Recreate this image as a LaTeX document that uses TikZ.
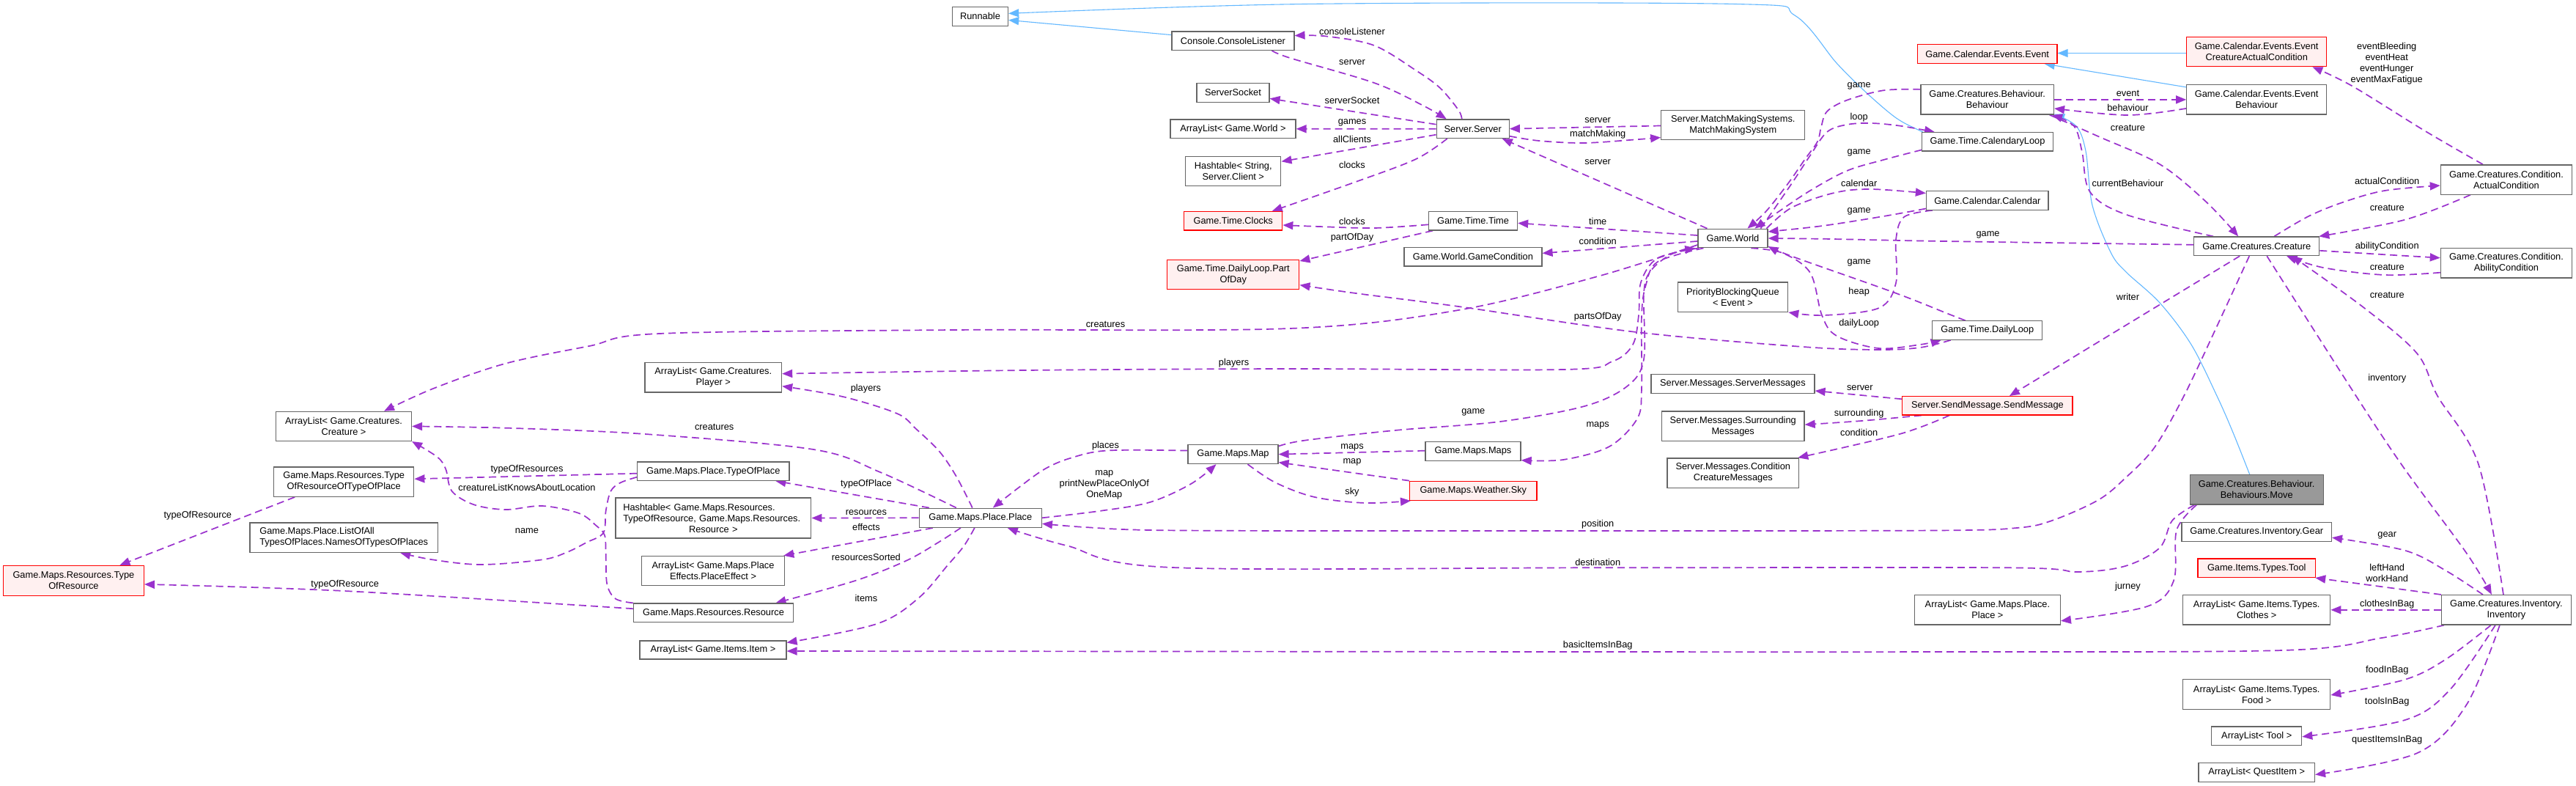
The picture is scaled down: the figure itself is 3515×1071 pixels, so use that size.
\documentclass[tikz,border=0pt]{standalone}
\usepackage{fontspec}
\setmainfont{Liberation Sans}
\usetikzlibrary{arrows.meta}
\definecolor{purp}{HTML}{9A32CD}
\definecolor{blu}{HTML}{63B8FF}
\definecolor{gfour}{HTML}{666666}
\definecolor{redfill}{HTML}{FFF0F0}
\definecolor{mainfill}{HTML}{999999}
\newcommand\dxf{\fontsize{12.8}{15}\selectfont}
\pgfdeclarelayer{paper}
\pgfdeclarelayer{edges}
\pgfsetlayers{paper,edges,main}
\tikzset{
 box/.style={draw=gfour, line width=1.3pt, fill=white, font=\dxf, align=center, inner sep=0pt},
 redbox/.style={box, draw=red, fill=redfill},
 mainbox/.style={box, fill=mainfill},
 use/.style={draw=purp, line width=1.7pt, dash pattern=on 10pt off 6pt, -{Triangle[length=14pt,width=11pt]}},
 inh/.style={draw=blu, line width=1.1pt, -{Triangle[length=14pt,width=11pt]}},
 lab/.style={font=\dxf, inner sep=0pt, align=center},
 sm/.style={smooth, tension=0.55}
}
\begin{document}
\begin{tikzpicture}[x=1pt,y=-1pt]
\begin{pgfonlayer}{paper}
\fill[white] (0,0) rectangle (3515,1071);
\end{pgfonlayer}
\useasboundingbox (0,0) rectangle (3515,1071);

% ---------- nodes ----------
\node[box, minimum width=76pt, minimum height=25.5pt] (runnable) at (1337.5,22.4) {Runnable};
\node[box, minimum width=167pt, minimum height=25.2pt] (console) at (1682.4,55.6) {Console.ConsoleListener};
\node[box, minimum width=99pt, minimum height=25.5pt] (ssock) at (1682.4,126.4) {ServerSocket};
\node[box, minimum width=171pt, minimum height=25.8pt] (alworld) at (1682.5,175.8) {ArrayList< Game.World >};
\node[box, minimum width=130pt, minimum height=40.2pt] (htclient) at (1682.8,233.3) {Hashtable< String,\\Server.Client >};
\node[redbox, minimum width=134pt, minimum height=25.4pt] (clocks) at (1682.7,301.3) {Game.Time.Clocks};
\node[redbox, minimum width=180pt, minimum height=40pt] (partofday) at (1682.8,374.7) {Game.Time.DailyLoop.Part\\OfDay};
\node[box, minimum width=186.5pt, minimum height=40.3pt] (alplayer) at (973.3,514.7) {ArrayList< Game.Creatures.\\Player >};
\node[box, minimum width=99pt, minimum height=25.5pt] (server) at (2009.7,175.7) {Server.Server};
\node[box, minimum width=196pt, minimum height=40pt] (mms) at (2364.8,170.5) {Server.MatchMakingSystems.\\MatchMakingSystem};
\node[box, minimum width=121pt, minimum height=25.4pt] (time) at (2010,301.3) {Game.Time.Time};
\node[box, minimum width=188pt, minimum height=25.2pt] (gamecond) at (2009.9,350.4) {Game.World.GameCondition};
\node[box, minimum width=95pt, minimum height=25.5pt] (world) at (2364.4,325) {Game.World};
\node[box, minimum width=150.4pt, minimum height=40.3pt] (pbq) at (2364.4,405.2) {PriorityBlockingQueue\\< Event >};
\node[box, minimum width=223pt, minimum height=25.5pt] (srvmsg) at (2364.4,523.5) {Server.Messages.ServerMessages};
\node[box, minimum width=130pt, minimum height=26pt] (maps) at (2010,615.7) {Game.Maps.Maps};
\node[redbox, minimum width=173.4pt, minimum height=26pt] (sky) at (2010.3,669.3) {Game.Maps.Weather.Sky};
\node[box, minimum width=194.6pt, minimum height=40.4pt] (surmsg) at (2364.7,581.2) {Server.Messages.Surrounding\\Messages};
\node[box, minimum width=179.6pt, minimum height=40.4pt] (ccmsg) at (2364.8,645.1) {Server.Messages.Condition\\CreatureMessages};
\node[redbox, minimum width=190.4pt, minimum height=25.8pt] (event) at (2711.7,73.5) {Game.Calendar.Events.Event};
\node[box, minimum width=181.4pt, minimum height=40.3pt] (behav) at (2711.7,135.9) {Game.Creatures.Behaviour.\\Behaviour};
\node[box, minimum width=178.5pt, minimum height=25.2pt] (calloop) at (2712,193.4) {Game.Time.CalendaryLoop};
\node[box, minimum width=166.6pt, minimum height=25.5pt] (calendar) at (2711.8,273.5) {Game.Calendar.Calendar};
\node[box, minimum width=150.2pt, minimum height=25.5pt] (dailyloop) at (2711.7,450.5) {Game.Time.DailyLoop};
\node[redbox, minimum width=232.2pt, minimum height=25.2pt] (sendmsg) at (2711.9,553.3) {Server.SendMessage.SendMessage};
\node[box, minimum width=198.8pt, minimum height=40.4pt] (alplace) at (2711.9,831.8) {ArrayList< Game.Maps.Place.\\Place >};
\node[redbox, minimum width=190.8pt, minimum height=40.3pt] (ecac) at (3079.2,70.5) {Game.Calendar.Events.Event\\CreatureActualCondition};
\node[box, minimum width=190.8pt, minimum height=40.3pt] (evbehav) at (3079.2,135.9) {Game.Calendar.Events.Event\\Behaviour};
\node[box, minimum width=170.8pt, minimum height=25.5pt] (creature) at (3079.2,335.8) {Game.Creatures.Creature};
\node[mainbox, minimum width=181.9pt, minimum height=40.3pt] (move) at (3079.2,667.9) {Game.Creatures.Behaviour.\\Behaviours.Move};
\node[box, minimum width=204.3pt, minimum height=25.9pt] (gear) at (3079.2,725.2) {Game.Creatures.Inventory.Gear};
\node[redbox, minimum width=160.7pt, minimum height=25.5pt] (tool) at (3079.2,774.7) {Game.Items.Types.Tool};
\node[box, minimum width=200.9pt, minimum height=40.4pt] (alclothes) at (3079.2,831.8) {ArrayList< Game.Items.Types.\\Clothes >};
\node[box, minimum width=200.9pt, minimum height=40.4pt] (alfood) at (3079.2,947) {ArrayList< Game.Items.Types.\\Food >};
\node[box, minimum width=122.8pt, minimum height=25.5pt] (altool) at (3079.2,1003.8) {ArrayList< Tool >};
\node[box, minimum width=158.4pt, minimum height=25.5pt] (alquest) at (3079.2,1053.5) {ArrayList< QuestItem >};
\node[box, minimum width=179pt, minimum height=40.3pt] (actcond) at (3419.9,245) {Game.Creatures.Condition.\\ActualCondition};
\node[box, minimum width=179pt, minimum height=40.3pt] (abcond) at (3419.9,358.7) {Game.Creatures.Condition.\\AbilityCondition};
\node[box, minimum width=176.9pt, minimum height=40.4pt] (inventory) at (3419.9,831.8) {Game.Creatures.Inventory.\\Inventory};
\node[box, minimum width=167pt, minimum height=26.2pt] (place) at (1337.8,706.3) {Game.Maps.Place.Place};
\node[box, minimum width=122.9pt, minimum height=25.9pt] (map) at (1682.5,619.6) {Game.Maps.Map};
\node[box, minimum width=207.2pt, minimum height=25.3pt] (typeofplace) at (973.3,642.7) {Game.Maps.Place.TypeOfPlace};
\node[box, minimum width=266.9pt, minimum height=55pt, text width=246pt, align=left] (htres) at (973.3,706.5) {Hashtable< Game.Maps.Resources.\\TypeOfResource, Game.Maps.Resources.\\\makebox[\linewidth]{Resource >}};
\node[box, minimum width=195.2pt, minimum height=40.4pt] (aleffect) at (973,778.6) {ArrayList< Game.Maps.Place\\Effects.PlaceEffect >};
\node[box, minimum width=218.1pt, minimum height=25.8pt] (resource) at (973.5,835.9) {Game.Maps.Resources.Resource};
\node[box, minimum width=199.8pt, minimum height=25pt] (alitem) at (973,886.5) {ArrayList< Game.Items.Item >};
\node[box, minimum width=184.9pt, minimum height=40pt] (alcreature) at (469,581.4) {ArrayList< Game.Creatures.\\Creature >};
\node[box, minimum width=191.1pt, minimum height=40.3pt] (tortop) at (469.2,657.2) {Game.Maps.Resources.Type\\OfResourceOfTypeOfPlace};
\node[box, minimum width=256.5pt, minimum height=40.4pt, align=left] (names) at (469.2,733.1) {Game.Maps.Place.ListOfAll\\TypesOfPlaces.NamesOfTypesOfPlaces};
\node[redbox, minimum width=191.7pt, minimum height=40.8pt] (tor) at (100.4,791.9) {Game.Maps.Resources.Type\\OfResource};

% ---------- edge labels ----------
\node[lab] (l1) at (1845,42.7) {consoleListener};
\node[lab] (l2) at (1845,84.7) {server};
\node[lab] (l3) at (1845,136.7) {serverSocket};
\node[lab] (l4) at (1845,167.7) {games};
\node[lab] (l5) at (1845,190.4) {allClients};
\node[lab] (l6) at (1845,224.5) {clocks};
\node[lab] (l7) at (2180.2,164.6) {server};
\node[lab] (l8) at (2180.2,183.5) {matchMaking};
\node[lab] (l9) at (2180.2,220.7) {server};
\node[lab] (l10) at (1845,302.3) {clocks};
\node[lab] (l11) at (1845,323.7) {partOfDay};
\node[lab] (l12) at (2180.2,302.3) {time};
\node[lab] (l13) at (2180.2,328.5) {condition};
\node[lab] (l14) at (2180.2,432.5) {partsOfDay};
\node[lab] (l15) at (2536.7,117) {game};
\node[lab] (l16) at (2536.7,160.5) {loop};
\node[lab] (l17) at (2536.7,208.7) {game};
\node[lab] (l18) at (2536.7,250.3) {calendar};
\node[lab] (l19) at (2536.7,287.9) {game};
\node[lab] (l20) at (2536.7,358.8) {game};
\node[lab] (l21) at (2536.7,398.4) {heap};
\node[lab] (l22) at (2536.7,440.8) {dailyLoop};
\node[lab] (l23) at (2537.8,528.9) {server};
\node[lab] (l24) at (2010.3,562.8) {game};
\node[lab] (l25) at (2180.2,580) {maps};
\node[lab] (l26) at (1845,610.7) {maps};
\node[lab] (l27) at (1845,630.8) {map};
\node[lab] (l28) at (1845,670.8) {sky};
\node[lab] (l29) at (2536.7,564.5) {surrounding};
\node[lab] (l30) at (2536.7,590.4) {condition};
\node[lab] (l31) at (2180.2,715.6) {position};
\node[lab] (l32) at (2180.2,766.7) {destination};
\node[lab] (l33) at (2180.2,880.6) {basicItemsInBag};
\node[lab] (l34) at (3256.7,86.6) {eventBleeding\\eventHeat\\eventHunger\\eventMaxFatigue};
\node[lab] (l35) at (2903.4,127.4) {event};
\node[lab] (l36) at (2903.4,147.4) {behaviour};
\node[lab] (l37) at (2903.4,174.9) {creature};
\node[lab] (l38) at (2903.4,250.3) {currentBehaviour};
\node[lab] (l39) at (3257.2,246.6) {actualCondition};
\node[lab] (l40) at (3257.2,283.7) {creature};
\node[lab] (l41) at (2712.5,320.6) {game};
\node[lab] (l42) at (3257.2,336.4) {abilityCondition};
\node[lab] (l43) at (3257.2,364) {creature};
\node[lab] (l44) at (3257.2,402.9) {creature};
\node[lab] (l45) at (2903.4,404.6) {writer};
\node[lab] (l46) at (3257.2,516.5) {inventory};
\node[lab] (l47) at (2903.4,799.8) {jurney};
\node[lab] (l48) at (3257.2,730.8) {gear};
\node[lab] (l49) at (3257.2,781.2) {leftHand\\workHand};
\node[lab] (l50) at (3257.2,823.7) {clothesInBag};
\node[lab] (l51) at (3257.2,914) {foodInBag};
\node[lab] (l52) at (3257.2,956.8) {toolsInBag};
\node[lab] (l53) at (3257.2,1009) {questItemsInBag};
\node[lab] (l54) at (1508.5,442.5) {creatures};
\node[lab] (l55) at (1683.6,494.8) {players};
\node[lab] (l56) at (1181.4,530.3) {players};
\node[lab] (l57) at (974.7,582.8) {creatures};
\node[lab] (l58) at (1181.9,660.4) {typeOfPlace};
\node[lab] (l59) at (1181.9,698.7) {resources};
\node[lab] (l60) at (1181.9,719.4) {effects};
\node[lab] (l61) at (1181.9,759.5) {resourcesSorted};
\node[lab] (l62) at (1181.9,816.4) {items};
\node[lab] (l63) at (1508.5,608) {places};
\node[lab] (l64) at (1506.8,661.2) {map\\printNewPlaceOnlyOf\\OneMap};
\node[lab] (l65) at (269.8,703.6) {typeOfResource};
\node[lab] (l66) at (719,639.7) {typeOfResources};
\node[lab] (l67) at (719,664.6) {creatureListKnowsAboutLocation};
\node[lab] (l68) at (719,724) {name};
\node[lab] (l69) at (470.7,796.7) {typeOfResource};

% ---------- edges ----------
\begin{pgfonlayer}{edges}
% inheritance
\draw[inh] ([yshift=8pt]console.west) -- ([yshift=-5pt]runnable.east);
\draw[inh] plot[sm] coordinates {([xshift=2pt]calloop.north west) (2597,167) (2577,153) (2543,123) (2506,86) (2449,21) (2368,5.5) (1780,5.5) ([yshift=4pt]runnable.east)};
\draw[inh] ([yshift=-2pt]ecac.west) -- ([yshift=1pt]event.east);
\draw[inh] ([yshift=17pt]evbehav.west) -- ([xshift=78pt]event.south);
\draw[inh] plot[sm] coordinates {([xshift=-9.5pt]move.north) (3047,590) (3025,540) (2990,470) (2947,413) (2900,370) (2880,344) (2855,280) (2846,206) (2833,172) ([yshift=1pt]behav.south east)};
% usage
\draw[use] plot[sm] coordinates {([xshift=-15pt]server.north) (1990,150) (1965,120) (1932,96) (1875,62) (1810,49.5) ([yshift=7pt]console.east)};
\draw[use] plot[sm] coordinates {([xshift=53pt]console.south) (1760,79) (1875,113) (1940,143) ([xshift=-36pt]server.north)};
\draw[use] ([yshift=6pt]server.west) -- ([yshift=-8pt]ssock.east);
\draw[use] (server.west) -- (alworld.east);
\draw[use] ([yshift=-8pt]server.west) -- ([yshift=13pt]htclient.east);
\draw[use] plot[sm] coordinates {([xshift=-35pt]server.south) (1932,217) (1850,248) ([xshift=53pt]clocks.north)};
\draw[use] ([yshift=-1pt]mms.west) -- (server.east);
\draw[use] plot[sm] coordinates {([yshift=-10pt]server.east) (2100,192) (2161,195) (2230,190.5) ([yshift=-17pt]mms.west)};
\draw[use] ([xshift=-35pt]world.north) -- ([xshift=40pt]server.south);
\draw[use] plot[sm] coordinates {([yshift=-5pt]time.west) (1875,311) (1800,309) ([yshift=-5.7pt]clocks.east)};
\draw[use] ([xshift=-55pt]time.south) -- ([yshift=-2pt]partofday.north east);
\draw[use] ([yshift=4pt]world.west) -- ([yshift=-3pt]time.east);
\draw[use] ([yshift=-4pt]world.west) -- ([yshift=5pt]gamecond.east);
\draw[use] plot[sm] coordinates {([xshift=-50pt]dailyloop.south) (2620,474) (2563,477) (2460,473) (2233,453) (1990,418) (1850,400) ([yshift=-14pt]partofday.east)};
\draw[use] plot[sm] coordinates {([yshift=-9pt]world.west) (2180,377) (1990,423) (1760,448) (1300,450) (900,455) (804,472) (689,496) (591,530) ([xshift=55pt]alcreature.north)};
\draw[use] plot[sm] coordinates {([xshift=-46pt]world.south) (2262,352) (2239,385) (2236,430) (2228,470) (2200,493) (2133,504) (1760,503) (1400,505) ([yshift=5pt]alplayer.east)};
\draw[use] plot[sm] coordinates {([xshift=-11pt]place.north) (1305,650) (1282,616) (1250,585) (1224,564) (1150,541) ([yshift=-12pt]alplayer.east)};
\draw[use] plot[sm] coordinates {([xshift=-33pt]place.north) (1201,644) (1110,613) (880,592) (700,584) (alcreature.east)};
\draw[use] ([xshift=-70pt]place.north) -- ([xshift=85pt]typeofplace.south);
\draw[use] (place.west) -- (htres.east);
\draw[use] ([xshift=-65pt]place.south) -- ([xshift=-2pt]aleffect.north east);
\draw[use] plot[sm] coordinates {([xshift=-27pt]place.south) (1280,740) (1236,765) (1167,792) ([xshift=85pt]resource.north)};
\draw[use] plot[sm] coordinates {([xshift=-8pt]place.south) (1315,745) (1293,771) (1253,816) (1196,851) ([yshift=10pt]alitem.east)};
\draw[use] plot[sm] coordinates {([yshift=5pt]map.west) (1511,614.5) (1460,625) (1425,640) (1390,665) ([xshift=17pt]place.north)};
\draw[use] plot[sm] coordinates {(place.east) (1500,697) (1569,685) (1625,660) ([xshift=-23pt]map.south)};
\draw[use] plot[sm] coordinates {([xshift=-10pt]creature.south) (3025,445) (2980,540) (2940,610) (2900,652) (2863,682) (2800,710) (2752,720) (2640,723.5) (2180,724) (1780,724) (1569,723) (1480,719) ([yshift=-8pt]place.east)};
\draw[use] plot[sm] coordinates {([xshift=-85pt]move.south) (2964,710) (2947,747) (2900,772) (2835,780) (2740,774.3) (2180,774.3) (1600,774) (1455,744) ([xshift=37pt]place.south)};
\draw[use] plot[sm] coordinates {([xshift=-82pt]move.south) (2970,723) (2966,792) (2930,827) ([yshift=-15pt]alplace.east)};
\draw[use] ([yshift=1pt]maps.west) -- (map.east);
\draw[use] (sky.north west) -- ([yshift=-11pt]map.east);
\draw[use] plot[sm] coordinates {([xshift=20pt]map.south) (1740,658) (1794,678) (1863,686) ([xshift=2pt]sky.south west)};
\draw[use] plot[sm] coordinates {([yshift=11pt]map.east) (1780,600.7) (1903,587) (2047,575) (2162,554) (2220,527) (2243,490) (2243,400) (2252,370) (2280,347) ([xshift=-3pt]world.south west)};
\draw[use] plot[sm] coordinates {([xshift=-40pt]world.south) (2262,357) (2246,388) (2240,430) (2240,530) (2234,571) (2196,609) (2133,627) ([yshift=-12pt]maps.east)};
\draw[use] plot[sm] coordinates {([yshift=14pt]behav.west) (2570,123.3) (2520,136.7) (2493,152) (2485,173) (2480,193) (2463,217) (2440,250) (2410,288) ([xshift=20pt]world.north)};
\draw[use] plot[sm] coordinates {([xshift=38pt]world.north) (2445,250) (2470,212) (2493,180) (2520,170) (2553,168) (2593,171.7) ([xshift=-72pt]calloop.north)};
\draw[use] plot[sm] coordinates {([yshift=-11pt]calloop.west) (2570,218) (2520,233) (2470,260) (2425,290) ([xshift=30pt]world.north)};
\draw[use] plot[sm] coordinates {([xshift=-2pt]world.north east) (2445,283) (2503,263) (2553,258) ([yshift=10pt]calendar.west)};
\draw[use] plot[sm] coordinates {([yshift=-11pt]calendar.west) (2570,295) (2487,308) ([yshift=9pt]world.east)};
\draw[use] plot[sm] coordinates {([yshift=2pt]creature.west) (2640,328.8) (2500,326) (world.east)};
\draw[use] plot[sm] coordinates {([xshift=-30pt]dailyloop.north) (2660,428.7) (2586,399.5) (2449,351) ([yshift=-11pt]world.east)};
\draw[use] plot[sm] coordinates {([xshift=25pt]world.south) (2432,345) (2470,372) (2486,430) (2506,458) (2563,475) (2620,470) ([xshift=-63pt]dailyloop.south)};
\draw[use] plot[sm] coordinates {([xshift=-75pt]calendar.south) (2598,296) (2587,327) (2587,386) (2564,420) (2489,430) (pbq.south east)};
\draw[use] (behav.east) -- (evbehav.west);
\draw[use] plot[sm] coordinates {([yshift=-12pt]evbehav.west) (2903,157) ([yshift=-12pt]behav.east)};
\draw[use] plot[sm] coordinates {([xshift=85pt]behav.south) (2863,186) (2947,224) (3010,275) ([xshift=-25pt]creature.north)};
\draw[use] plot[sm] coordinates {([xshift=-59pt]creature.north) (2902,293) (2852,262) (2841,207) (2830,172) ([xshift=-3pt]behav.south east)};
\draw[use] plot[sm] coordinates {([xshift=-32pt]actcond.north) (3309.6,179) (3209,117) ([xshift=-20pt]ecac.south east)};
\draw[use] plot[sm] coordinates {([xshift=24pt]creature.north) (3150,295) (3198,275.5) (3254,260) ([yshift=-8pt]actcond.west)};
\draw[use] plot[sm] coordinates {([xshift=-49pt]actcond.south) (3282,299.6) ([xshift=-1pt]creature.north east)};
\draw[use] plot[sm] coordinates {([yshift=-6pt]creature.east) (3250,347) ([yshift=7pt]abcond.west)};
\draw[use] plot[sm] coordinates {([yshift=-13pt]abcond.west) (3254,375) (3170,365) ([xshift=41pt]creature.south)};
\draw[use] plot[sm] coordinates {([xshift=-4pt]inventory.north) (3382,633.5) (3326,540) (3298,482) (3226,420) ([xshift=48pt]creature.south)};
\draw[use] plot[sm] coordinates {([xshift=14pt]creature.south) (3214.8,540) (3281.7,640.4) (3365.5,754.3) ([xshift=-20pt]inventory.north)};
\draw[use] ([xshift=-23pt]creature.south) -- ([xshift=30pt]sendmsg.north);
\draw[use] ([yshift=9pt]sendmsg.west) -- ([yshift=-9.5pt]srvmsg.east);
\draw[use] plot[sm] coordinates {([xshift=-90pt]sendmsg.south) (2540,574) ([yshift=2pt]surmsg.east)};
\draw[use] plot[sm] coordinates {([xshift=-52pt]sendmsg.south) (2592,592) ([xshift=-2pt]ccmsg.north east)};
\draw[use] plot[sm] coordinates {([xshift=-32pt]inventory.north) (3337.6,778.4) (3281.7,750.8) ([yshift=-8pt]gear.east)};
\draw[use] (inventory.north west) -- ([xshift=-1pt]tool.south east);
\draw[use] (inventory.west) -- (alclothes.east);
\draw[use] plot[sm] coordinates {([xshift=-85pt]inventory.south) (3250,870) (3114,887) (2640,889) (2180,889) ([yshift=-1.5pt]alitem.east)};
\draw[use] plot[sm] coordinates {([xshift=-21pt]inventory.south) (3337.6,899) (3281.7,926.8) ([yshift=-1pt]alfood.east)};
\draw[use] plot[sm] coordinates {([xshift=-15pt]inventory.south) (3343,940.6) (3281.7,982) ([yshift=-1pt]altool.east)};
\draw[use] plot[sm] coordinates {([xshift=-9pt]inventory.south) (3365.5,961.3) (3298.5,1027) ([yshift=-3pt]alquest.east)};
\draw[use] plot[sm] coordinates {([yshift=5.7pt]resource.west) (470,806) ([yshift=-5pt]tor.east)};
\draw[use] ([xshift=-67pt]tortop.south) -- ([xshift=63pt]tor.north);
\draw[use] ([yshift=-3pt]typeofplace.west) -- ([yshift=4pt]tortop.east);
\draw[use] plot[sm] coordinates {([yshift=-8pt]typeofplace.west) (846.7,658.3) (833.3,670) (826.7,696.7) (823.3,726.7) (800,740) (773.3,753.3) (740,763.3) (656.7,770) (590,763.3) ([xshift=77pt]names.south)};
\draw[use] plot[sm] coordinates {(resource.north west) (840,816.7) (828.3,796.7) (826.7,756.7) (825,730) (813.3,716.7) (790,700) (740,690) (690,695) (646.7,688.3) (616.7,670) (608.3,640) (596.7,623.3) (alcreature.south east)};
\end{pgfonlayer}
\end{tikzpicture}
\end{document}
